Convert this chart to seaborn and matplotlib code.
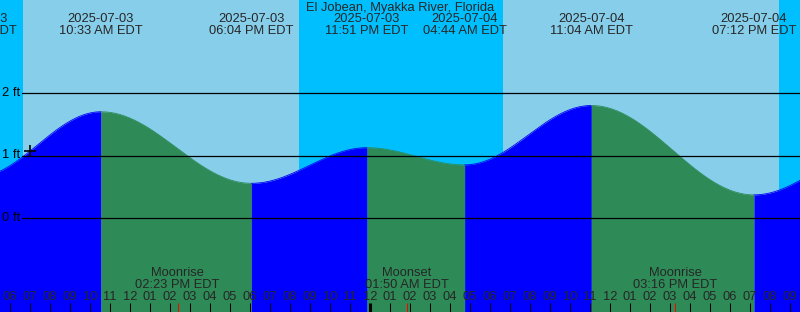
import numpy as np
import pandas as pd
import matplotlib
matplotlib.use("Agg")
import matplotlib.pyplot as plt
import matplotlib.transforms as mtransforms
import seaborn as sns

# ---------------- data ----------------
title = "El Jobean, Myakka River, Florida"
# tide extremes: hours since 2025-07-03 00:00 EDT
tide_hours = [4.25, 10.55, 18.0667, 23.85, 28.7333, 35.0667, 43.2, 49.0]
tide_heights = [0.65, 1.70, 0.555, 1.125, 0.85, 1.80, 0.37, 1.05]
tide_dates = ["2025-07-03", "2025-07-03", "2025-07-03", "2025-07-03",
              "2025-07-04", "2025-07-04", "2025-07-04", "2025-07-05"]
tide_times = ["04:15 AM EDT", "10:33 AM EDT", "06:04 PM EDT", "11:51 PM EDT",
              "04:44 AM EDT", "11:04 AM EDT", "07:12 PM EDT", "01:00 AM EDT"]
sunrise_hours = [6.65, 30.65]
sunset_hours = [20.45, 44.45]
moon_hours = [14.3833, 25.8333, 39.2667]
moon_events = ["Moonrise", "Moonset", "Moonrise"]
moon_times = ["02:23 PM EDT", "01:50 AM EDT", "03:16 PM EDT"]
hour_ticks = list(range(6, 46))
hour_labels = ["06", "07", "08", "09", "10", "11", "12", "01", "02", "03", "04", "05",
               "06", "07", "08", "09", "10", "11", "12", "01", "02", "03", "04", "05",
               "06", "07", "08", "09", "10", "11", "12", "01", "02", "03", "04", "05",
               "06", "07", "08", "09"]
midnight_hours = [24]
gridline_ft = [0, 1, 2]
gridline_labels = ["0 ft", "1 ft", "2 ft"]
now_hour = 7.0
now_height = 1.07

# ---------------- style ----------------
sns.set_style("white")
plt.rcParams["font.family"] = ["Liberation Sans", "DejaVu Sans"]
FS = 9.3

W, H = 800, 312
fig = plt.figure(figsize=(W / 100, H / 100), dpi=100)
ax = fig.add_axes([0, 0, 1, 1])
ax.set_axis_off()

x0, x1 = 5.5, 45.5
y0, y1 = -1.504, 3.488
ax.set_xlim(x0, x1)
ax.set_ylim(y0, y1)

NIGHT = "#00BFFF"
DAY = "#87CEEB"
RISE = "#0000FF"
FALL = "#2E8B57"

# sky background
edges = [x0] + sorted(sunrise_hours + sunset_hours) + [x1]
for i in range(len(edges) - 1):
    ax.axvspan(edges[i], edges[i + 1], color=NIGHT if i % 2 == 0 else DAY,
               lw=0, zorder=0)

# tide curve segments (cosine shape between extremes)
rows = []
for i in range(len(tide_hours) - 1):
    ta, tb = tide_hours[i], tide_hours[i + 1]
    ha, hb = tide_heights[i], tide_heights[i + 1]
    t = np.linspace(ta, tb, 300)
    f = (1 - np.cos(np.pi * (t - ta) / (tb - ta))) / 2
    rows.append(pd.DataFrame({"hour": t, "height": ha + (hb - ha) * f,
                              "seg": i, "rising": hb > ha}))
tide = pd.concat(rows, ignore_index=True)

for seg, d in tide.groupby("seg"):
    c = RISE if d["rising"].iloc[0] else FALL
    ax.fill_between(d["hour"], y0, d["height"], color=c, lw=0, zorder=1)
    sns.lineplot(data=d, x="hour", y="height", color=c, lw=0.6, ax=ax,
                 zorder=1.5, legend=False)
ax.set_axis_off()
ax.set_xlim(x0, x1)
ax.set_ylim(y0, y1)

# horizontal gridlines with labels
yl = mtransforms.blended_transform_factory(ax.transAxes, ax.transData)
for v, lab in zip(gridline_ft, gridline_labels):
    ax.plot([x0 + 22 / 20, x1], [v, v], color="black", lw=0.9, zorder=3)
    ax.text(2.5 / W, v, lab, transform=yl, ha="left", va="center",
            fontsize=FS, color="black", zorder=4)

# current-time marker
ax.plot([now_hour], [now_height], marker="+", ms=8, mew=1.2,
        color="black", zorder=4)

tf = mtransforms.blended_transform_factory(ax.transData, fig.transFigure)


def fy(py):
    return 1 - py / H


# title
fig.text(0.5, fy(7.5), title, ha="center", va="center", fontsize=FS)

# tide labels
for h, d, t in zip(tide_hours, tide_dates, tide_times):
    ax.text(h, fy(19.5), d, transform=tf, ha="center", va="center", fontsize=FS, zorder=5)
    ax.text(h, fy(31.5), t, transform=tf, ha="center", va="center", fontsize=FS, zorder=5)

# moon labels
for h, e, t in zip(moon_hours, moon_events, moon_times):
    ax.text(h, fy(273.5), e, transform=tf, ha="center", va="center", fontsize=FS, zorder=5)
    ax.text(h, fy(285.5), t, transform=tf, ha="center", va="center", fontsize=FS, zorder=5)

# hour ticks & labels
tx = mtransforms.blended_transform_factory(ax.transData, ax.transAxes)
for h, lab in zip(hour_ticks, hour_labels):
    ax.text(h, fy(297.5), lab, transform=tf, ha="center", va="center", fontsize=FS, zorder=5)
    lw = 2.2 if h in midnight_hours else 0.75
    ax.plot([h, h], [0, 9 / H], transform=tx, color="black", lw=lw,
            zorder=5, solid_capstyle="butt")
for h in moon_hours:
    ax.plot([h, h], [0, 9 / H], transform=tx, color="red", lw=0.75,
            zorder=6, solid_capstyle="butt")

fig.savefig("out.png", dpi=100)
